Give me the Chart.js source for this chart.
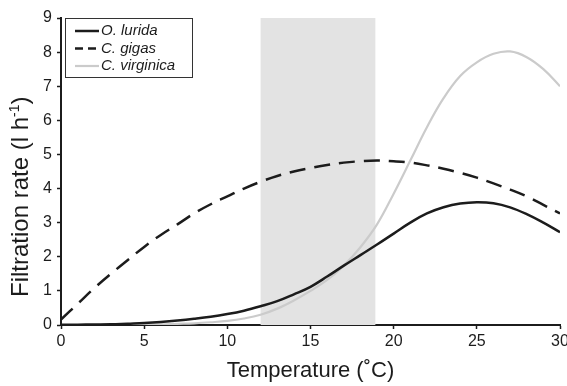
<!DOCTYPE html>
<html>
<head>
<meta charset="utf-8">
<script src="https://cdn.jsdelivr.net/npm/chart.js@4"></script>
<style>
  html, body { margin: 0; padding: 0; background: #fff; }
  #wrap { width: 567px; height: 386px; }
</style>
</head>
<body>
<div id="wrap"><canvas id="chart" width="567" height="386"></canvas></div>
<script>
// temperature (°C) and filtration rate (l h-1)
const temps = [0, 1, 2, 3, 4, 5, 6, 7, 8, 9, 10, 11, 12, 13, 14, 15, 16, 17, 18, 19, 20, 21, 22, 23, 24, 25, 26, 27, 28, 29, 30];
const lurida = [0.01, 0.01, 0.015, 0.02, 0.04, 0.06, 0.09, 0.13, 0.18, 0.24, 0.32, 0.42, 0.55, 0.7, 0.9, 1.12, 1.42, 1.74, 2.05, 2.36, 2.68, 3.0, 3.27, 3.45, 3.56, 3.6, 3.57, 3.45, 3.25, 3.0, 2.72];
const gigas = [0.16, 0.62, 1.08, 1.5, 1.9, 2.29, 2.64, 2.95, 3.27, 3.54, 3.77, 4.0, 4.2, 4.37, 4.5, 4.6, 4.69, 4.76, 4.8, 4.82, 4.8, 4.76, 4.68, 4.58, 4.46, 4.32, 4.15, 3.97, 3.77, 3.52, 3.27];
const virginica = [0, 0, 0, 0.005, 0.01, 0.015, 0.02, 0.035, 0.05, 0.08, 0.12, 0.19, 0.3, 0.48, 0.72, 1.0, 1.32, 1.74, 2.28, 2.95, 3.85, 4.82, 5.8, 6.65, 7.3, 7.7, 7.95, 8.02, 7.85, 7.5, 7.0];
const seriesNames = ["O. lurida", "C. gigas", "C. virginica"];
const shadeRange = [12, 18.9];

const font = "'Liberation Sans', Arial, Helvetica, sans-serif";
const ink = "#1c1c1c";

function points(values) {
  return temps.map((t, i) => ({ x: t, y: values[i] }));
}

// grey band behind the curves
const shadePlugin = {
  id: "shade",
  beforeDatasetsDraw(chart) {
    const { ctx, chartArea, scales } = chart;
    const x1 = scales.x.getPixelForValue(shadeRange[0]);
    const x2 = scales.x.getPixelForValue(shadeRange[1]);
    ctx.save();
    ctx.fillStyle = "#e3e3e3";
    ctx.fillRect(x1, chartArea.top, x2 - x1, chartArea.bottom - chartArea.top);
    ctx.restore();
  },
};

// y axis title, drawn by hand so the "-1" can be a real superscript
const yTitle = {
  id: "yTitle",
  afterDraw(chart) {
    const { ctx } = chart;
    ctx.save();
    ctx.translate(28, 297);
    ctx.rotate(-Math.PI / 2);
    ctx.fillStyle = ink;
    ctx.textBaseline = "alphabetic";
    ctx.font = "24px " + font;
    let x = 0;
    const main = "Filtration rate (l h";
    ctx.fillText(main, x, 0);
    x += ctx.measureText(main).width;
    ctx.font = "14px " + font;
    ctx.fillText("-1", x, -9);
    x += ctx.measureText("-1").width;
    ctx.font = "24px " + font;
    ctx.fillText(")", x, 0);
    ctx.restore();
  },
};

// boxed legend in the top left corner
const boxLegend = {
  id: "boxLegend",
  afterDraw(chart) {
    const { ctx, chartArea } = chart;
    const left = chartArea.left + 4;
    const top = chartArea.top;
    ctx.save();
    ctx.fillStyle = "#fff";
    ctx.fillRect(left, top, 127, 59);
    ctx.strokeStyle = "#333";
    ctx.lineWidth = 1;
    ctx.strokeRect(left + 0.5, top + 0.5, 127, 59);
    ctx.font = "italic 15px " + font;
    ctx.textBaseline = "middle";
    chart.data.datasets.forEach((ds, i) => {
      const y = top + 13 + i * 17.5;
      ctx.beginPath();
      ctx.strokeStyle = ds.borderColor;
      ctx.lineWidth = ds.borderWidth;
      ctx.setLineDash(ds.borderDash ? [8, 5] : []);
      ctx.moveTo(left + 10, y);
      ctx.lineTo(left + 34, y);
      ctx.stroke();
      ctx.setLineDash([]);
      ctx.fillStyle = ink;
      ctx.fillText(ds.label, left + 36, y);
    });
    ctx.restore();
  },
};

new Chart(document.getElementById("chart"), {
  type: "line",
  data: {
    datasets: [
      {
        label: seriesNames[0],
        data: points(lurida),
        borderColor: ink,
        borderWidth: 2.5,
      },
      {
        label: seriesNames[1],
        data: points(gigas),
        borderColor: ink,
        borderWidth: 2.5,
        borderDash: [16, 9],
      },
      {
        label: seriesNames[2],
        data: points(virginica),
        borderColor: "#cbcbcb",
        borderWidth: 2.2,
      },
    ],
  },
  options: {
    responsive: false,
    animation: false,
    layout: { padding: { top: 18, right: 7, left: 0, bottom: 0 } },
    elements: {
      point: { radius: 0 },
      line: { tension: 0.4, fill: false },
    },
    plugins: {
      legend: { display: false },
      tooltip: { enabled: false },
    },
    scales: {
      x: {
        type: "linear",
        min: 0,
        max: 30,
        ticks: {
          stepSize: 5,
          color: ink,
          padding: 3,
          font: { family: font, size: 16 },
          maxRotation: 0,
        },
        grid: { drawOnChartArea: false, drawTicks: true, tickLength: 4, color: ink, tickWidth: 1.5 },
        border: { color: ink, width: 2 },
        title: {
          display: true,
          text: "Temperature (˚C)",
          color: ink,
          font: { family: font, size: 22 },
          padding: { top: 0, bottom: 2 },
        },
        afterFit(scale) {
          scale.height = 61;
          scale.paddingLeft = 0;
          scale.paddingRight = 0;
        },
      },
      y: {
        min: 0,
        max: 9,
        ticks: {
          stepSize: 1,
          color: ink,
          padding: 5,
          font: { family: font, size: 16 },
        },
        grid: { drawOnChartArea: false, drawTicks: true, tickLength: 4, color: ink, tickWidth: 1.5 },
        border: { color: ink, width: 2 },
        afterFit(scale) {
          scale.width = 61;
        },
      },
    },
  },
  plugins: [shadePlugin, yTitle, boxLegend],
});
</script>
</body>
</html>
